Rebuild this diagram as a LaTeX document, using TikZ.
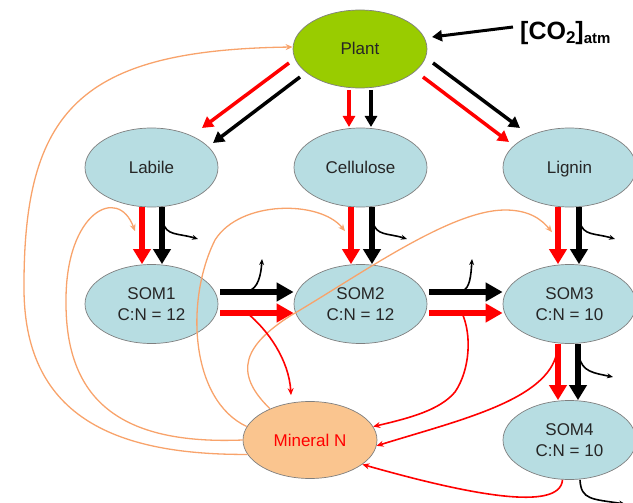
\documentclass[tikz,border=0pt]{standalone}
\usepackage{fontspec}
\setmainfont{Liberation Sans}
\usetikzlibrary{shapes.geometric,arrows.meta}
\definecolor{plantgreen}{HTML}{99CC00}
\definecolor{poolblue}{HTML}{B7DDE2}
\definecolor{minorange}{HTML}{FAC58F}
\definecolor{nflow}{HTML}{F8A36B}
\definecolor{txt}{HTML}{262626}
\definecolor{edgegray}{HTML}{7F7F7F}
\begin{document}
\begin{tikzpicture}[x=1pt,y=-1pt,
  pool/.style={ellipse, draw=edgegray, line width=0.7pt, fill=poolblue,
    minimum width=133pt, minimum height=79pt, inner sep=0pt, align=center,
    text=txt, font=\fontsize{17}{21}\selectfont},
  oneline/.style={text height=12pt, text depth=0pt},
  plantarrow/.style={line width=3.5pt, -{Triangle[length=11pt,width=12pt]}},
  vflow/.style={line width=5.5pt, -{Triangle[length=15pt,width=17pt]}},
  hflow/.style={line width=6.5pt, -{Triangle[length=17pt,width=18pt]}},
  resp/.style={black, line width=1.6pt, -{Stealth[length=6pt,width=5pt]}},
  mineral/.style={red, line width=1.6pt, -{Stealth[length=7pt,width=6pt]}},
  uptake/.style={nflow, line width=1.3pt, -{Stealth[length=7pt,width=6pt]}},
]
\useasboundingbox (0,0) rectangle (633,503);

% nodes
\node[pool, oneline, fill=plantgreen, minimum height=78pt, minimum width=134pt] (plant) at (360,49) {Plant};
\node[anchor=west, inner sep=0pt, text=black, font=\bfseries\fontsize{25}{28}\selectfont] (co2) at (520,33)
  {[CO\raisebox{-4pt}{\fontsize{17}{17}\selectfont 2}]\raisebox{-4pt}{\fontsize{15}{15}\selectfont atm}};
\node[pool, oneline] (labile) at (151.5,167.5) {Labile};
\node[pool, oneline] (cell) at (360.5,167.5) {Cellulose};
\node[pool, oneline] (lignin) at (569.5,167.5) {Lignin};
\node[pool] (som1) at (151.5,304) {SOM1\\C:N = 12};
\node[pool] (som2) at (360.5,304) {SOM2\\C:N = 12};
\node[pool] (som3) at (569.5,304) {SOM3\\C:N = 10};
\node[pool] (som4) at (569.5,440) {SOM4\\C:N = 10};
\node[pool, oneline, fill=minorange, text=red, minimum width=134pt, minimum height=77pt] (minn) at (310,440) {Mineral N};

% branch points
\coordinate (b1) at (163,222);
\coordinate (b1e) at (198,239);
\coordinate (b2) at (373,222);
\coordinate (b2e) at (407,239);
\coordinate (b3) at (580,222);
\coordinate (b3e) at (615,239);
\coordinate (b4) at (579,356);
\coordinate (b4e) at (613,377);
\coordinate (b5e) at (625,504);
\coordinate (u1) at (248,291);
\coordinate (u1e) at (262,259);
\coordinate (u2) at (462,291);
\coordinate (u2e) at (472,259);
\coordinate (r1) at (247,313);
\coordinate (r2) at (462,313);
\coordinate (r3) at (557,352);

% orange uptake curves (drawn first, below)
\draw[uptake] (minn.193) .. controls (120,455) and (25,420) .. (24,290)
  .. controls (23,110) and (80,50) .. ([yshift=2pt]plant.west);
\draw[uptake] (minn.180) .. controls (120,445) and (65,400) .. (66,300)
  .. controls (66,212) and (118,185) .. ([shift={(-16.5,-33)}]som1.north);
\draw[uptake] (minn.168) .. controls (190,400) and (185,300) .. (215,240)
  .. controls (240,200) and (320,200) .. ([shift={(-15.5,-33)}]som2.north);
\draw[uptake] (minn.142) .. controls (232,372) and (245,345) .. (290,316)
  .. controls (360,275) and (450,210) .. (505,210)
  .. controls (530,210) and (542,220) .. ([shift={(-17.5,-32)}]som3.north);

% CO2 input
\draw[black, line width=3pt, -{Triangle[length=10pt,width=11pt]}] ([shift={(-7,-6)}]co2.west) -- ([shift={(72,-12)}]plant.center);

% plant allocation
\draw[plantarrow, red] ([shift={(-71,14)}]plant.center) -- ([shift={(50.5,-39.5)}]labile.center);
\draw[plantarrow, black] ([shift={(-60,28)}]plant.center) -- ([shift={(61.5,-24.5)}]labile.center);
\draw[plantarrow, red] ([shift={(-11,41)}]plant.center) -- ([shift={(-11.5,-40.5)}]cell.center);
\draw[plantarrow, black] ([shift={(11,41)}]plant.center) -- ([shift={(10.5,-40.5)}]cell.center);
\draw[plantarrow, black] ([shift={(73,14)}]plant.center) -- ([shift={(-49.5,-39.5)}]lignin.center);
\draw[plantarrow, red] ([shift={(63,28)}]plant.center) -- ([shift={(-60.5,-25.5)}]lignin.center);

% litter to SOM
\draw[vflow, red] ([xshift=-9.5pt]labile.south) -- ([xshift=-9.5pt]som1.north);
\draw[vflow, black] ([xshift=10.5pt]labile.south) -- ([xshift=10.5pt]som1.north);
\draw[vflow, red] ([xshift=-9.5pt]cell.south) -- ([xshift=-9.5pt]som2.north);
\draw[vflow, black] ([xshift=11.5pt]cell.south) -- ([xshift=11.5pt]som2.north);
\draw[vflow, red] ([xshift=-11.5pt]lignin.south) -- ([xshift=-11.5pt]som3.north);
\draw[vflow, black] ([xshift=9.5pt]lignin.south) -- ([xshift=9.5pt]som3.north);
\draw[vflow, red] ([xshift=-11.5pt]som3.south) -- ([xshift=-11.5pt]som4.north);
\draw[vflow, black] ([xshift=8.5pt]som3.south) -- ([xshift=8.5pt]som4.north);

% SOM to SOM
\draw[hflow, black] ([shift={(2pt,12pt)}]som1.east) -- ([yshift=12pt]som2.west);
\draw[hflow, red] ([shift={(2pt,-9pt)}]som1.east) -- ([yshift=-9pt]som2.west);
\draw[hflow, black] ([shift={(2pt,12pt)}]som2.east) -- ([yshift=12pt]som3.west);
\draw[hflow, red] ([shift={(2pt,-9pt)}]som2.east) -- ([yshift=-9pt]som3.west);

% respiration branches
\draw[resp] (b1) .. controls (166,236) and (178,233) .. (b1e);
\draw[resp] (b2) .. controls (376,236) and (388,233) .. (b2e);
\draw[resp] (b3) .. controls (583,236) and (595,233) .. (b3e);
\draw[resp] (b4) .. controls (582,372) and (594,373) .. (b4e);
\draw[resp] ([xshift=10.5pt]som4.south) .. controls (581,500) and (592,499) .. (b5e);
\draw[resp] (u1) .. controls (258,289) and (261,275) .. (u1e);
\draw[resp] (u2) .. controls (470,289) and (471,275) .. (u2e);

% mineralisation
\draw[mineral] (r1) .. controls (268,330) and (289,360) .. ([shift={(-19pt,6pt)}]minn.north);
\draw[mineral] (r2) .. controls (472,335) and (470,370) .. (455,392)
  .. controls (440,410) and (410,418) .. (minn.12);
\draw[mineral] (r3) .. controls (548,400) and (460,420) .. (minn.355);
\draw[mineral] ([xshift=-7pt]som4.south) .. controls (560,512) and (470,495) .. (minn.335);
\end{tikzpicture}
\end{document}
